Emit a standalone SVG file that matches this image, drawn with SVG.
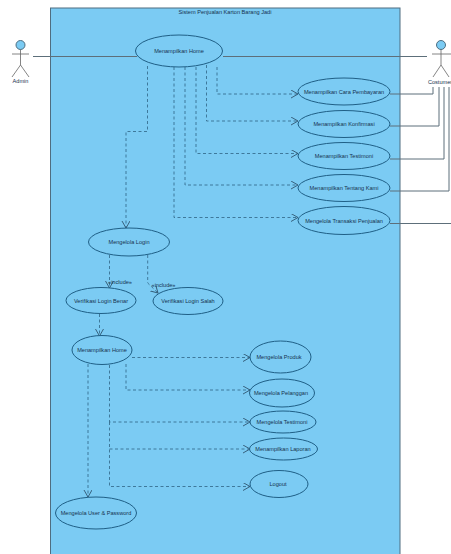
<svg xmlns="http://www.w3.org/2000/svg" width="451" height="554" viewBox="0 0 451 554">
<style>
text{font-family:"Liberation Sans",Arial,sans-serif;font-size:5.6px;fill:#16324f;text-anchor:middle}
.uc{fill:#7bcbf3;stroke:#1f5f86;stroke-width:1}
.d{fill:none;stroke:#2f6384;stroke-width:.8;stroke-dasharray:3 2.5}
.s{fill:none;stroke:#5d6f7a;stroke-width:1}
.h{fill:#7bcbf3;stroke:#4e6f82;stroke-width:1}
.l{fill:none;stroke:#666;stroke-width:.8}
</style>
<defs><marker id="o" markerUnits="userSpaceOnUse" markerWidth="10" markerHeight="10" refX="7" refY="4" orient="auto"><path d="M0 0L7 4L0 8" fill="none" stroke="#2f5670" stroke-width=".9"/></marker></defs>
<rect width="451" height="554" fill="#fff"/>
<g id="boundary"><rect x="50.5" y="8" width="349.5" height="548" fill="#7bcbf3" stroke="#4f6d80" stroke-width="1"/><text x="225" y="14">Sistem Penjualan Karton Barang Jadi</text></g>
<g id="connectors">
<path class="s" d="M33 56.500H137M223 56.500H427"/>
<path class="s" d="M390 94H433V87M390 126H439V87M390 159H444V87M390 191H449V87M390 223.500H451"/>
<path class="d" marker-end="url(#o)" d="M147.500 66V131.500H126V228"/>
<path class="d" marker-end="url(#o)" d="M217 67V94H298"/>
<path class="d" marker-end="url(#o)" d="M206.500 65V121H298"/>
<path class="d" marker-end="url(#o)" d="M196 67V153.500H298"/>
<path class="d" marker-end="url(#o)" d="M185 67V185H298"/>
<path class="d" marker-end="url(#o)" d="M174 67V217.500H298"/>
<path class="d" marker-end="url(#o)" d="M109.500 255V288"/>
<path class="d" marker-end="url(#o)" d="M147.700 255V283L158 293"/>
<path class="d" marker-end="url(#o)" d="M99.500 314V336"/>
<path class="d" marker-end="url(#o)" d="M132 357.500H250"/>
<path class="d" marker-end="url(#o)" d="M126 364V390H250"/>
<path class="d" marker-end="url(#o)" d="M109.500 365V422H250"/>
<path class="d" marker-end="url(#o)" d="M109.500 449H250"/>
<path class="d" marker-end="url(#o)" d="M109.500 422V486.500H250"/>
<path class="d" marker-end="url(#o)" d="M88 364V497"/>
</g>
<text x="120" y="284">«include»</text>
<text x="163.500" y="286.500">«include»</text>
<g id="admin"><circle class="h" cx="20.500" cy="45" r="4.500"/><path class="l" d="M12 54H29M20.500 49.500V65L12 77M20.500 65L29 77"/><text x="20.500" y="83">Admin</text></g>
<g id="costumer"><circle class="h" cx="441" cy="45" r="4.500"/><path class="l" d="M432 54H451M441 49.500V65L433 77M441 65L449 77"/><text x="440" y="84">Costumer</text></g>
<g id="home1"><ellipse class="uc" cx="179" cy="51" rx="43.500" ry="16"/><text x="179" y="53">Menampilkan Home</text></g>
<g id="cara"><ellipse class="uc" cx="344" cy="91.500" rx="46" ry="13.500"/><text x="344" y="93.500">Menampilkan Cara Pembayaran</text></g>
<g id="konfirmasi"><ellipse class="uc" cx="344" cy="124" rx="46" ry="13.500"/><text x="344" y="126">Menampilkan Konfirmasi</text></g>
<g id="testimoni"><ellipse class="uc" cx="344" cy="156" rx="46" ry="13.500"/><text x="344" y="158">Menampilkan Testimoni</text></g>
<g id="tentang"><ellipse class="uc" cx="344" cy="188" rx="46" ry="13.500"/><text x="344" y="190">Menampilkan Tentang Kami</text></g>
<g id="transaksi"><ellipse class="uc" cx="344" cy="220.500" rx="46" ry="14"/><text x="344" y="222.500">Mengelola Transaksi Penjualan</text></g>
<g id="login"><ellipse class="uc" cx="129" cy="242" rx="40.500" ry="14"/><text x="129" y="244">Mengelola Login</text></g>
<g id="benar"><ellipse class="uc" cx="101" cy="300.500" rx="35" ry="13"/><text x="101" y="302.500">Verifikasi Login Benar</text></g>
<g id="salah"><ellipse class="uc" cx="188" cy="301" rx="35" ry="13.500"/><text x="188" y="303">Verifikasi Login Salah</text></g>
<g id="home2"><ellipse class="uc" cx="102" cy="350" rx="30" ry="14.500"/><text x="102" y="352">Menampilkan Home</text></g>
<g id="produk"><ellipse class="uc" cx="280.500" cy="357" rx="30.500" ry="16"/><text x="279" y="359">Mengelola Produk</text></g>
<g id="pelanggan"><ellipse class="uc" cx="282" cy="393" rx="32.500" ry="14"/><text x="281" y="395">Mengelola Pelanggan</text></g>
<g id="testimoni2"><ellipse class="uc" cx="283" cy="422" rx="33" ry="11"/><text x="282" y="424">Mengelola Testimoni</text></g>
<g id="laporan"><ellipse class="uc" cx="283.500" cy="449" rx="34" ry="11"/><text x="283" y="451">Menampilkan Laporan</text></g>
<g id="logout"><ellipse class="uc" cx="279" cy="484" rx="29" ry="13.500"/><text x="278" y="486">Logout</text></g>
<g id="user"><ellipse class="uc" cx="96" cy="513" rx="40.500" ry="16"/><text x="96" y="515">Mengelola User &amp; Password</text></g>
</svg>
